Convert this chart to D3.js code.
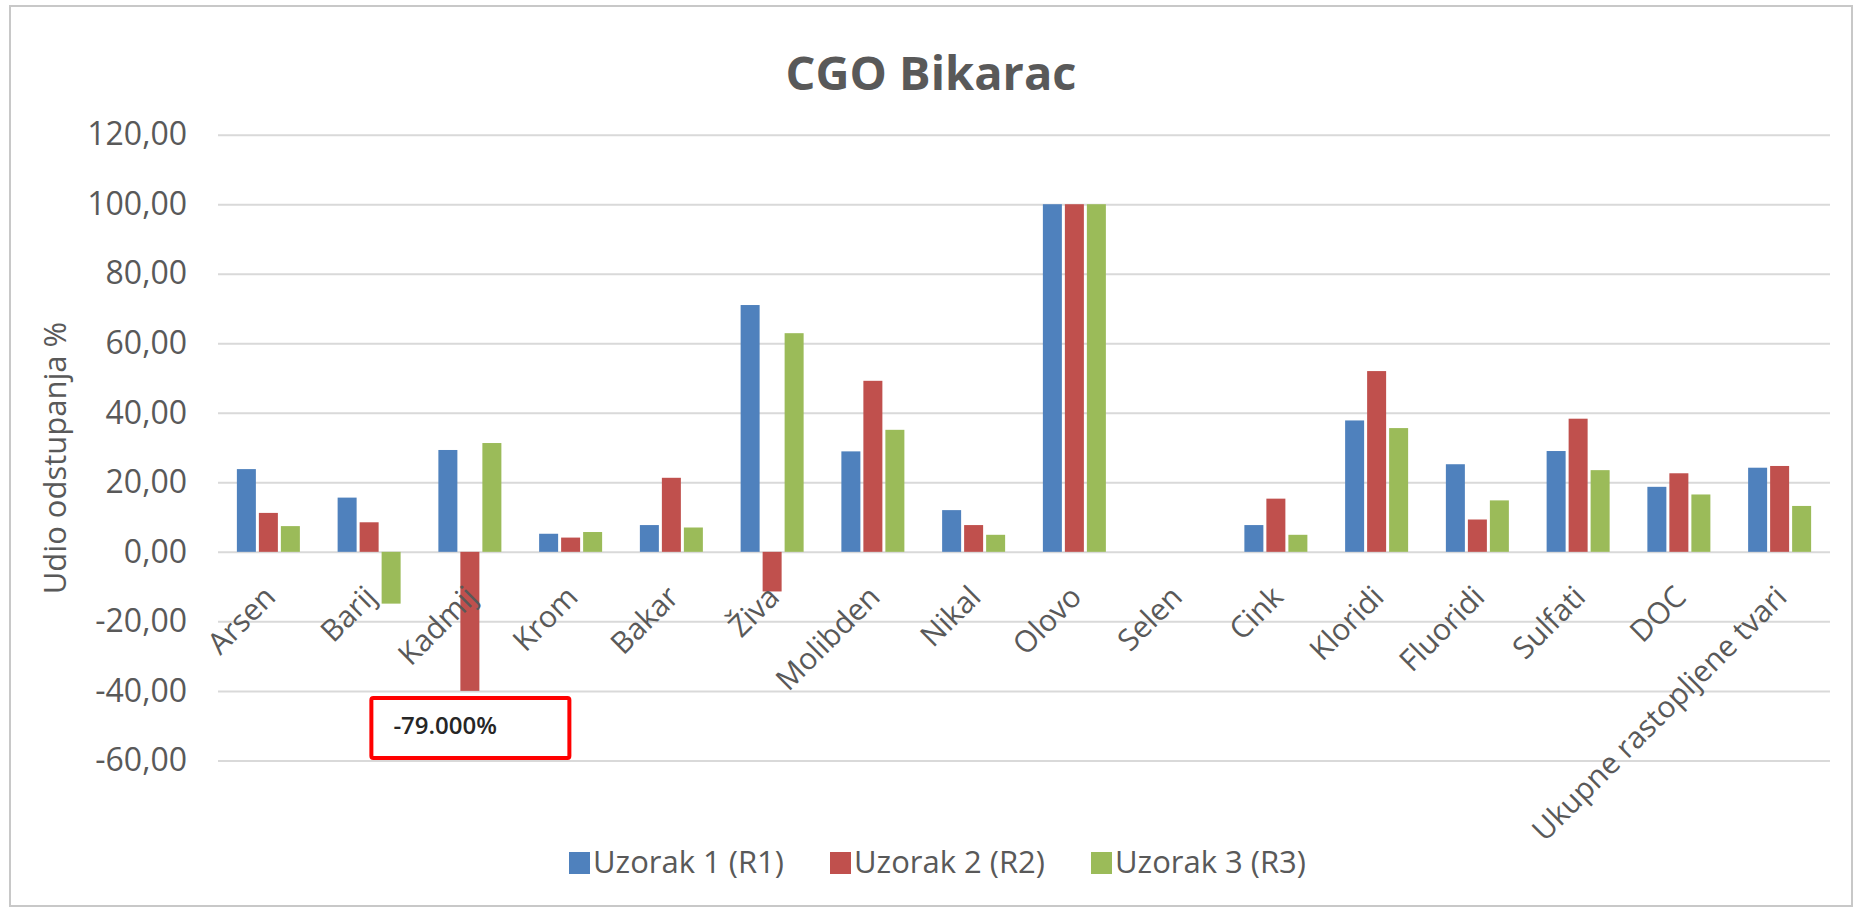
<!DOCTYPE html>
<html>
<head>
<meta charset="utf-8">
<script src="https://cdn.jsdelivr.net/npm/d3@7"></script>
<style>
  html, body { margin: 0; padding: 0; background: #fff; }
  svg { display: block; font-family: "Open Sans", "Noto Sans", sans-serif; }
</style>
</head>
<body>
<svg id="chart" width="1866" height="913"></svg>
<script>
const categories = [
  "Arsen", "Barij", "Kadmij", "Krom", "Bakar", "Živa", "Molibden", "Nikal",
  "Olovo", "Selen", "Cink", "Kloridi", "Fluoridi", "Sulfati", "DOC",
  "Ukupne rastopljene tvari"
];
const seriesNames = ["Uzorak 1 (R1)", "Uzorak 2 (R2)", "Uzorak 3 (R3)"];
const r1 = [23.8, 15.6, 29.3, 5.2, 7.7, 71.0, 28.9, 12.0, 100, 0, 7.7, 37.8, 25.2, 29.0, 18.7, 24.2];
const r2 = [11.2, 8.5, -79.0, 4.1, 21.3, -11.4, 49.2, 7.7, 100, 0, 15.3, 52.0, 9.3, 38.3, 22.6, 24.7];
const r3 = [7.4, -14.9, 31.3, 5.7, 7.0, 62.9, 35.1, 4.9, 100, 0, 4.9, 35.6, 14.8, 23.5, 16.5, 13.2];
const yTicks = [-60, -40, -20, 0, 20, 40, 60, 80, 100, 120];
const colors = ["#4f81bd", "#c0504d", "#9bbb59"];
// bars below this are cut off in the original and labelled instead
const cutoff = -40;

const series = [r1, r2, r3];
const textColor = "#595959";

const svg = d3.select("#chart");
const plot = { left: 218, right: 1830, top: 134.7, bottom: 760.4 };

const locale = d3.formatLocale({ decimal: ",", thousands: ".", grouping: [3], currency: ["", ""], minus: "-" });
const tickFmt = locale.format(".2f");
const noteFmt = d3.formatLocale({ decimal: ".", thousands: ",", grouping: [3], currency: ["", ""], minus: "-" }).format(".3f");

const x0 = d3.scaleBand().domain(categories).range([plot.left, plot.right]);
const x1 = d3.scaleBand().domain(d3.range(series.length))
  .range([x0.bandwidth() / 2 - 31.5, x0.bandwidth() / 2 + 34.5]);
const y = d3.scaleLinear().domain([-60, 120]).range([plot.bottom, plot.top]);

// outer frame
svg.append("rect")
  .attr("x", 10).attr("y", 6).attr("width", 1842).attr("height", 900)
  .attr("fill", "none").attr("stroke", "#c8c8c8").attr("stroke-width", 2);

// title
svg.append("text")
  .attr("x", 931).attr("y", 90)
  .attr("text-anchor", "middle")
  .attr("font-size", 47).attr("font-weight", "bold")
  .attr("fill", textColor)
  .text("CGO Bikarac");

// gridlines + y labels
const yAxis = d3.axisLeft(y).tickValues(yTicks).tickFormat((d) => tickFmt(d))
  .tickSize(-(plot.right - plot.left)).tickPadding(31);
const gy = svg.append("g").attr("transform", `translate(${plot.left},0)`).call(yAxis);
gy.select(".domain").remove();
gy.selectAll(".tick line").attr("stroke", "#d9d9d9").attr("stroke-width", 2);
gy.selectAll(".tick text")
  .attr("font-size", 32).attr("fill", textColor)
  .attr("font-family", "'Open Sans', sans-serif");

// y title
svg.append("text")
  .attr("transform", "translate(66,458) rotate(-90)")
  .attr("text-anchor", "middle")
  .attr("font-size", 31).attr("fill", textColor)
  .text("Udio odstupanja %");

// bars
const rows = categories.map((c, i) => ({ c, vals: series.map((s) => s[i]) }));
const groups = svg.append("g").selectAll("g")
  .data(rows)
  .join("g")
  .attr("transform", (d) => `translate(${x0(d.c)},0)`);

groups.selectAll("rect")
  .data((d) => d.vals.map((v, k) => ({ v, k })))
  .join("rect")
  .attr("x", (d) => x1(d.k))
  .attr("width", 19)
  .attr("y", (d) => y(Math.max(0, d.v)))
  .attr("height", (d) => Math.abs(y(Math.max(d.v, cutoff)) - y(0)))
  .attr("fill", (d) => colors[d.k]);

// x labels (rotated)
svg.append("g").selectAll("text")
  .data(categories)
  .join("text")
  .attr("transform", (d) => `translate(${x0(d) + x0.bandwidth() / 2 + 9},${y(0) + 47}) rotate(-45)`)
  .attr("text-anchor", "end")
  .attr("font-size", 30).attr("fill", textColor)
  .text((d) => d);

// note for the cut-off bar
const cut = [];
series.forEach((s, k) => s.forEach((v, i) => { if (v < cutoff) cut.push({ i, k, v }); }));
const notes = svg.append("g").selectAll("g").data(cut).join("g")
  .attr("transform", (d) => `translate(${x0(categories[d.i]) + x1(d.k) - 89},${y(cutoff) + 7})`);
notes.append("rect")
  .attr("x", 0).attr("y", 0).attr("width", 198).attr("height", 60)
  .attr("fill", "#fff").attr("stroke", "#ff0000").attr("stroke-width", 4).attr("rx", 2);
notes.append("text")
  .attr("x", 22).attr("y", 36)
  .attr("font-size", 24).attr("font-weight", 600).attr("fill", "#262626")
  .text((d) => noteFmt(d.v) + "%");

// legend
const legend = svg.append("g").selectAll("g")
  .data(seriesNames)
  .join("g")
  .attr("transform", (d, i) => `translate(${569 + i * 261},852)`);
legend.append("rect")
  .attr("width", 21).attr("height", 22)
  .attr("fill", (d, i) => colors[i]);
legend.append("text")
  .attr("x", 24).attr("y", 21)
  .attr("font-size", 31).attr("fill", textColor)
  .text((d) => d);
</script>
</body>
</html>
